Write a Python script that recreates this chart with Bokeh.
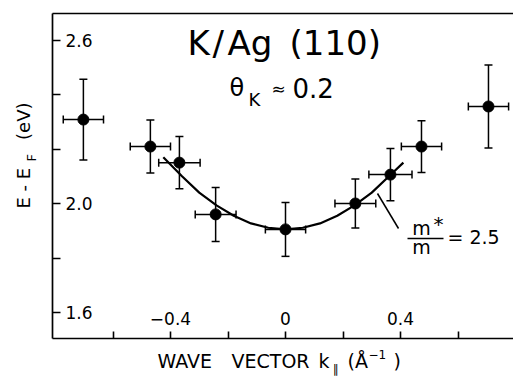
import math
from bokeh.plotting import figure
from bokeh.models import (ColumnDataSource, Range1d, FixedTicker, LinearAxis,
                          Whisker, TeeHead, Label)
from bokeh.embed import file_html
from bokeh.resources import INLINE

# ---------------- data ----------------
k_vals = [-0.703, -0.470, -0.369, -0.243, 0.000, 0.243, 0.365, 0.473, 0.706]
E_vals = [2.308, 2.209, 2.150, 1.960, 1.905, 2.000, 2.106, 2.209, 2.356]
E_errs = [0.148, 0.097, 0.096, 0.099, 0.099, 0.090, 0.096, 0.095, 0.152]
k_errs = [0.070, 0.070, 0.072, 0.071, 0.070, 0.071, 0.075, 0.070, 0.070]

fit_k = [-0.425, -0.36, -0.30, -0.24, -0.18, -0.12, -0.06, 0.0,
         0.06, 0.12, 0.18, 0.24, 0.30, 0.36, 0.41]
fit_E = [2.170, 2.100, 2.040, 1.993, 1.955, 1.927, 1.911, 1.905,
         1.911, 1.927, 1.955, 1.993, 2.040, 2.100, 2.150]

x_major_ticks = [-0.4, 0.0, 0.4]
x_tick_labels = ["\u22120.4", "0", "0.4"]
x_minor_ticks = [-0.6, -0.2, 0.2, 0.6]
y_major_ticks = [1.6, 2.0, 2.6]
y_tick_labels = ["1.6", "2.0", "2.6"]
y_minor_ticks = [1.8, 2.2, 2.4]

# ---------------- layout helpers (canvas pixels -> data) ----------------
W, H = 513, 379
def dx(px):
    return (px - 285) / 287.5
def dy(py):
    return 2.0 + (203 - py) / 272.5

FONT = "DejaVu Sans"
FL, FT, FB = 52, 13, 338   # frame left / top / bottom lines in pixels

p = figure(width=W, height=H, output_backend="svg", toolbar_location=None,
           x_range=Range1d(dx(0), dx(W)), y_range=Range1d(dy(H), dy(0)),
           x_axis_location=None, y_axis_location=None,
           min_border_left=0, min_border_right=0, min_border_top=0,
           min_border_bottom=0)
p.outline_line_color = None
p.background_fill_color = "white"
p.border_fill_color = "white"
p.xgrid.visible = False
p.ygrid.visible = False

def style_axis(ax, tick_len):
    ax.major_tick_in = 0
    ax.major_tick_out = tick_len
    ax.minor_tick_in = 0
    ax.minor_tick_out = tick_len
    ax.axis_line_width = 1.7
    ax.axis_line_color = "black"
    ax.major_tick_line_width = 1.6
    ax.major_tick_line_color = "black"
    ax.minor_tick_line_width = 1.6
    ax.minor_tick_line_color = "black"
    ax.major_label_text_font = FONT
    ax.major_label_text_font_size = "17px"
    ax.major_label_text_color = "black"

# y axis: drawn at the left frame line, ticks and labels pointing inward
yax = LinearAxis(fixed_location=dx(FL), bounds=(dy(FB), dy(FT)),
                 ticker=FixedTicker(ticks=y_major_ticks, minor_ticks=y_minor_ticks),
                 major_label_overrides={t: s for t, s in zip(y_major_ticks, y_tick_labels)},
                 major_label_standoff=5)
style_axis(yax, 8)
p.add_layout(yax, "right")

# x axis: drawn at the bottom frame line, ticks and labels pointing inward
xax = LinearAxis(fixed_location=dy(FB), bounds=(dx(FL), dx(W)),
                 ticker=FixedTicker(ticks=x_major_ticks, minor_ticks=x_minor_ticks),
                 major_label_overrides={t: s for t, s in zip(x_major_ticks, x_tick_labels)},
                 major_label_standoff=7)
style_axis(xax, 7)
p.add_layout(xax, "above")

# top frame line
tax = LinearAxis(fixed_location=dy(FT), bounds=(dx(FL), dx(W)),
                 ticker=FixedTicker(ticks=[]))
style_axis(tax, 0)
p.add_layout(tax, "above")

# fit curve
p.line(fit_k, fit_E, line_color="black", line_width=2.2)

# data with error bars
src = ColumnDataSource(dict(
    k=k_vals, E=E_vals,
    E_lo=[e - d for e, d in zip(E_vals, E_errs)],
    E_hi=[e + d for e, d in zip(E_vals, E_errs)],
    k_lo=[k - d for k, d in zip(k_vals, k_errs)],
    k_hi=[k + d for k, d in zip(k_vals, k_errs)],
))
for base, lo, hi, dim in (("k", "E_lo", "E_hi", "height"), ("E", "k_lo", "k_hi", "width")):
    p.add_layout(Whisker(source=src, base=base, lower=lo, upper=hi, dimension=dim,
                         line_color="black", line_width=1.5,
                         lower_head=TeeHead(size=8, line_width=1.5, line_color="black"),
                         upper_head=TeeHead(size=8, line_width=1.5, line_color="black")))
p.scatter("k", "E", source=src, marker="circle", size=11, color="black")

BASE_SHIFT = 0.38   # alphabetic-baseline correction, as a fraction of font size

def lab(text, px, py, size, align="left", baseline="alphabetic", angle=0.0):
    if baseline == "alphabetic":
        if angle == 0.0:
            py -= BASE_SHIFT * size
        else:
            px -= BASE_SHIFT * size
    p.add_layout(Label(x=dx(px), y=dy(py), text=text, text_font=FONT,
                       text_font_size=f"{size}px", text_align=align,
                       text_baseline=baseline, angle=angle, text_color="black"))

# title
lab("K", 187, 55, 34)
lab("/", 212, 55, 34)
lab("Ag", 227, 55, 34)
lab("(110)", 289, 55, 34)
lab("\u03b8", 229, 97, 24)
lab("K", 248, 106, 18)
lab("\u2248", 278, 88, 17, align="center", baseline="middle")
lab("0.2", 292, 97, 26)

# m*/m = 2.5 annotation
p.line([dx(377), dx(398)], [dy(193), dy(228)], line_color="black", line_width=1.5)
p.line([dx(407), dx(443)], [dy(238), dy(238)], line_color="black", line_width=1.6)
lab("m", 421, 235, 19, align="center")
lab("*", 438, 231, 20, align="center")
lab("m", 421, 254, 19, align="center")
lab("= 2.5", 447, 244, 19)

# axis titles
lab("E - E", 30, 208, 18, angle=math.pi / 2)
lab("F", 36, 161, 13, angle=math.pi / 2)
lab("(eV)", 30, 102, 18, align="right", angle=math.pi / 2)

lab("WAVE", 157, 368, 19)
lab("VECTOR", 231, 368, 19)
lab("k", 318, 368, 19)
lab("\u2225", 332, 373, 12)
lab("(\u00c5", 347, 368, 19)
lab("\u22121", 368, 359, 12)
lab(")", 393, 368, 19)

open("out.html", "w").write(file_html(p, INLINE))
